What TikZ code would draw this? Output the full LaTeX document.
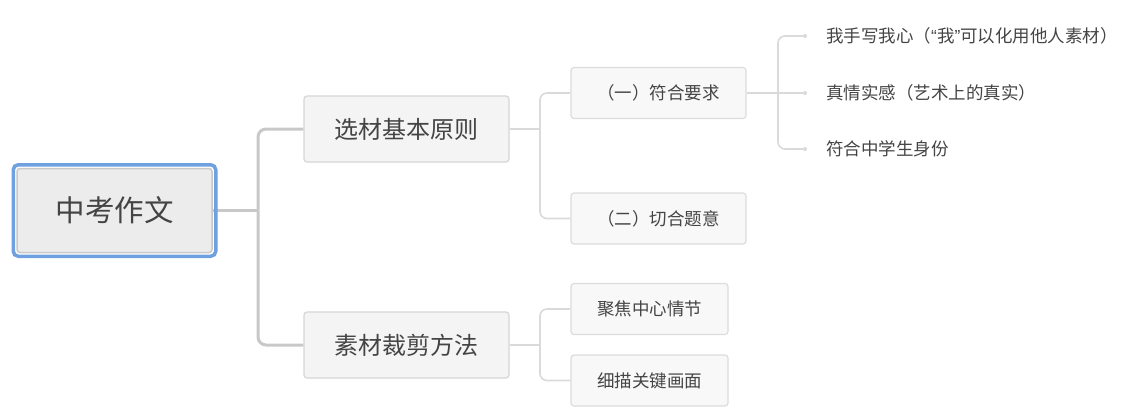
\documentclass[tikz,border=0pt]{standalone}
\usepackage{fontspec}
\setmainfont{Noto Sans CJK SC}
\newfontfamily\quotefont{Liberation Sans}
\usetikzlibrary{calc}
\definecolor{txt}{HTML}{444444}
\definecolor{rootfill}{HTML}{ECECEC}
\definecolor{rootline}{HTML}{C8C8C8}
\definecolor{rootblue}{HTML}{6FA0E0}
\definecolor{lafill}{HTML}{F4F4F4}
\definecolor{laline}{HTML}{D6D6D6}
\definecolor{lbfill}{HTML}{F8F8F8}
\definecolor{lbline}{HTML}{DCDCDC}
\definecolor{conA}{HTML}{C8C8C8}
\definecolor{conB}{HTML}{DADADA}
\tikzset{
  rootbox/.style={draw=rootline, fill=rootfill, line width=1.5pt, rounded corners=3pt,
    minimum width=195pt, minimum height=84pt, inner sep=0pt, text=txt, font=\fontsize{29.5}{32}\selectfont},
  lvlone/.style={draw=laline, fill=lafill, line width=1.2pt, rounded corners=3pt,
    minimum width=205pt, minimum height=66pt, inner sep=0pt, text=txt, font=\fontsize{24}{28}\selectfont},
  lvltwo/.style={draw=lbline, fill=lbfill, line width=1.2pt, rounded corners=3pt,
    minimum height=51pt, inner sep=0pt, text=txt, font=\fontsize{17.5}{21}\selectfont},
  leaf/.style={anchor=west, inner sep=0pt, text=txt, font=\fontsize{17.5}{21}\selectfont},
  dotmark/.style={circle, fill=conB, inner sep=0pt, minimum size=4pt},
  conone/.style={draw=conA, line width=3pt, rounded corners=8pt},
  contwo/.style={draw=conB, line width=1.6pt, rounded corners=7pt},
}
\begin{document}
\begin{tikzpicture}[x=1pt,y=-1pt]
\useasboundingbox (0,0) rectangle (1122,418);
\coordinate (j1) at (258,210.5);
\coordinate (j2) at (540,129);
\coordinate (j3) at (540,345);
\coordinate (j4) at (778,93);
\node[rootbox] (root) at (114.5,210.5) {中考作文};
\draw[conone] (root.east) -- (j1);
\draw[rootblue, line width=3.5pt, rounded corners=5pt]
  ($(root.south west)+(-3,3)$) rectangle ($(root.north east)+(3,-3)$);
\node[lvlone] (a) at (406.5,129) {选材基本原则};
\node[lvlone] (b) at (406.5,345) {素材裁剪方法};
\node[lvltwo, minimum width=175pt] (a1) at (658.5,93) {（一）符合要求};
\node[lvltwo, minimum width=175pt] (a2) at (658.5,218.5) {（二）切合题意};
\node[lvltwo, minimum width=157pt] (b1) at (649.5,309) {聚焦中心情节};
\node[lvltwo, minimum width=157pt] (b2) at (649.5,380.5) {细描关键画面};
\node[dotmark] (d1) at (805,36) {};
\node[dotmark] (d2) at (805,93) {};
\node[dotmark] (d3) at (805,149) {};
\node[leaf] (t1) at (826,36) {我手写我心（{\quotefont“}我{\quotefont”}可以化用他人素材）};
\node[leaf] (t2) at (826,93) {真情实感（艺术上的真实）};
\node[leaf] (t3) at (826,149) {符合中学生身份};
\draw[conone] (j1) |- (a.west);
\draw[conone] (j1) |- (b.west);
\draw[contwo] (a.east) -- (j2);
\draw[contwo] (j2) |- (a1.west);
\draw[contwo] (j2) |- (a2.west);
\draw[contwo] (b.east) -- (j3);
\draw[contwo] (j3) |- (b1.west);
\draw[contwo] (j3) |- (b2.west);
\draw[contwo] (a1.east) -- (j4);
\draw[contwo] (j4) |- (d1);
\draw[contwo] (j4) -- (d2);
\draw[contwo] (j4) |- (d3);
\end{tikzpicture}
\end{document}
